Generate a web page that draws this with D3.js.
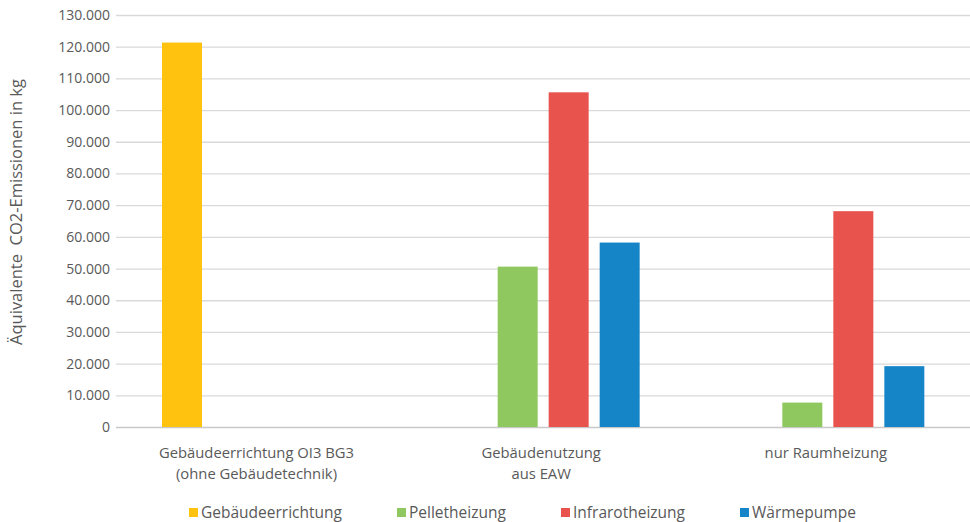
<!DOCTYPE html>
<html><head><meta charset="utf-8">
<script src="https://cdn.jsdelivr.net/npm/d3@7"></script>
<style>
body{margin:0;background:#fff;}
text{font-family:"Open Sans",sans-serif;fill:#595959;}
</style></head>
<body><svg id="c" width="970" height="522"></svg>
<script>
const categories = [["Gebäudeerrichtung OI3 BG3","(ohne Gebäudetechnik)"],["Gebäudenutzung","aus EAW"],["nur Raumheizung"]];
const seriesNames = ["Gebäudeerrichtung","Pelletheizung","Infrarotheizung","Wärmepumpe"];
const seriesColors = ["#FEC20F","#8FC85E","#E8534E","#1585C8"];
const gebaeudeerrichtung = [121300, null, null];
const pelletheizung = [null, 50600, 7700];
const infrarotheizung = [null, 105600, 68100];
const waermepumpe = [null, 58200, 19200];
const yTicks = [0,10000,20000,30000,40000,50000,60000,70000,80000,90000,100000,110000,120000,130000];
const series = [gebaeudeerrichtung, pelletheizung, infrarotheizung, waermepumpe];

const svg = d3.select("#c");
const pL = 116, pR = 970, pT = 15, pB = 427;
const x0 = d3.scaleBand().domain(d3.range(categories.length)).range([pL, pR]).padding(0);
const x1 = d3.scaleBand().domain(d3.range(series.length)).range([46, 46+193]).paddingInner(11/51).paddingOuter(0);
const y = d3.scaleLinear().domain([0,130000]).range([pB, pT]);
const fmt = d => d3.format(",")(d).replace(/,/g, ".");

// gridlines
svg.append("g").selectAll("line").data(yTicks).join("line")
  .attr("x1", pL).attr("x2", pR)
  .attr("y1", d => y(d)+0.5).attr("y2", d => y(d)+0.5)
  .attr("stroke", d => d===0 ? "#C8C8C8" : "#D9D9D9").attr("stroke-width", 1.3);

// y axis labels
const yAxis = d3.axisLeft(y).tickValues(yTicks).tickFormat(fmt).tickSize(0).tickPadding(6);
const ya = svg.append("g").attr("transform", `translate(${pL},0)`).call(yAxis);
ya.select(".domain").remove();
ya.selectAll("text").style("font-family","'Open Sans',sans-serif").style("font-size","14px").attr("fill","#595959");

// bars
series.forEach((s, si) => {
  svg.append("g").selectAll("rect").data(s.map((v,i)=>({v,i})).filter(d=>d.v!=null)).join("rect")
    .attr("x", d => x0(d.i) + x1(si))
    .attr("width", x1.bandwidth())
    .attr("y", d => y(d.v))
    .attr("height", d => y(0) - y(d.v))
    .attr("fill", seriesColors[si]);
});

// category labels (one text element per line)
const lineData = [];
categories.forEach((lines, i) => lines.forEach((ln, k) => lineData.push({i, k, ln})));
svg.append("g").selectAll("text").data(lineData).join("text")
  .attr("text-anchor","middle").style("font-size","14.8px")
  .attr("x", d => x0(d.i) + 46 + 193/2 - 2)
  .attr("y", d => 458 + d.k*20.5)
  .text(d => d.ln);

// y title
svg.append("text").attr("transform","translate(22,212) rotate(-90)")
  .attr("text-anchor","middle").style("font-size","16.5px").style("white-space","pre")
  .attr("xml:space","preserve").text("Äquivalente  CO2-Emissionen in kg");

// legend
const legX = [189, 397, 561, 740];
const lg = svg.append("g").selectAll("g").data(seriesNames).join("g")
  .attr("transform", (d,i) => `translate(${legX[i]},0)`);
lg.append("rect").attr("x",0).attr("y",508).attr("width",9).attr("height",9).attr("fill",(d,i)=>seriesColors[i]);
lg.append("text").attr("x",12).attr("y",518).style("font-size","15.5px").text(d=>d);
</script></body></html>
